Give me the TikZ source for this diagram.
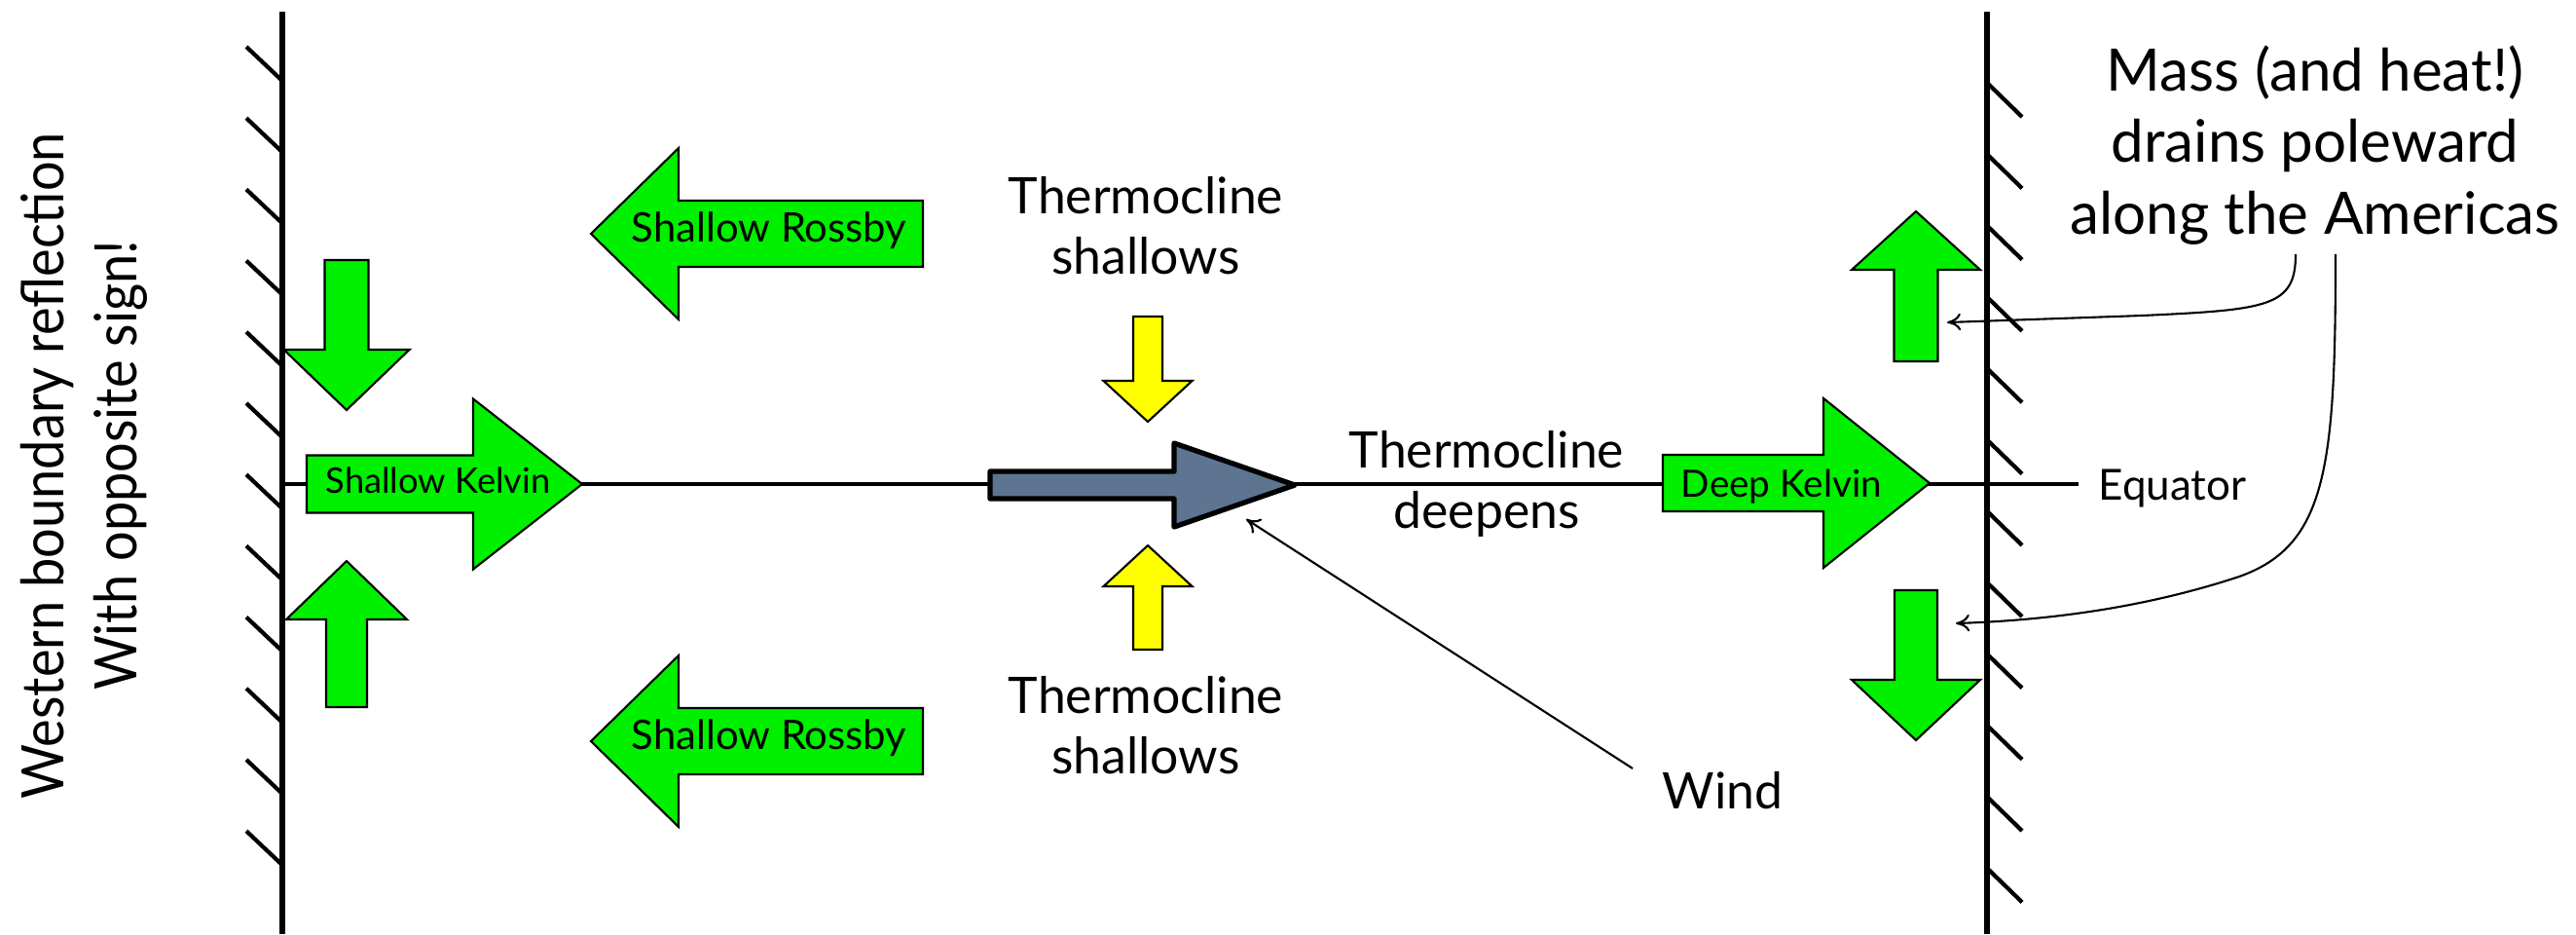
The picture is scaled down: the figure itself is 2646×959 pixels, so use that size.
\documentclass[tikz,border=0pt]{standalone}
\usepackage{fontspec}
\setmainfont{Lato}
\newfontfamily\narrowfont[FakeStretch=0.9]{Lato}
\usetikzlibrary{arrows.meta}
\usetikzlibrary{positioning}

\definecolor{wavegreen}{RGB}{0,240,0}
\definecolor{upwellyellow}{RGB}{255,255,0}
\definecolor{windslate}{RGB}{93,117,145}

% block arrow: style, name, tail, angle, length, shaft half width, head half width, head length
\newcommand{\blockarrow}[8]{%
  \begin{scope}[shift={#3}, rotate=#4]
    \draw[#1] (0,-#6) -- ({#5-#8},-#6) -- ({#5-#8},-#7) -- (#5,0)
      -- ({#5-#8},#7) -- ({#5-#8},#6) -- (0,#6) -- cycle;
    \coordinate (#2) at ({#5/2},0);
  \end{scope}}

\tikzset{
  greenarrow/.style={draw=black, fill=wavegreen, line width=0.6pt},
  yellowarrow/.style={draw=black, fill=upwellyellow, line width=0.6pt},
  windarrow/.style={draw=black, fill=windslate, line width=1.5pt, line join=round},
  wall/.style={black, line width=1.5pt},
  hatch/.style={black, line width=1.2pt},
  pointer/.style={black, line width=0.6pt, -{To[length=4pt,width=5pt]}},
  thermotext/.style={font=\fontsize{14.7}{17.6}\selectfont, align=center, inner sep=0pt},
  wavetext/.style={font=\fontsize{10.3}{12}\selectfont, inner sep=0pt, anchor=base},
  rossbytext/.style={font=\fontsize{11.9}{14}\selectfont, inner sep=0pt, anchor=base}
}

\begin{document}
\begin{tikzpicture}[x=0.01cm, y=-0.01cm]
  \useasboundingbox (0,0) rectangle (2646,959);

  % Equator line
  \coordinate (eqW) at (290,497);
  \coordinate (eqE) at (2135,497);
  \draw[black, line width=1.1pt] (eqW) -- (eqE);

  % Western and eastern boundaries
  \coordinate (wallWtop) at (290,12);
  \coordinate (wallWbot) at (290,959);
  \coordinate (wallEtop) at (2041,12);
  \coordinate (wallEbot) at (2041,959);
  \draw[wall] (wallWtop) -- (wallWbot);
  \draw[wall] (wallEtop) -- (wallEbot);

  % Hatching on the coasts
  \foreach \k in {0,...,11} {
    \draw[hatch] (253,{48+73.2*\k}) -- (289,{82+73.2*\k});
    \draw[hatch] (2041,{85+73.3*\k}) -- (2077,{120+73.3*\k});
  }

  % Kelvin waves
  \blockarrow{greenarrow}{kelvinW}{(315,497)}{0}{283}{29.5}{87.5}{112}
  \blockarrow{greenarrow}{kelvinE}{(1708,496)}{0}{274}{29}{87}{109}

  % Rossby waves
  \blockarrow{greenarrow}{rossbyN}{(948,240)}{180}{341}{34}{88}{90}
  \blockarrow{greenarrow}{rossbyS}{(948,761)}{180}{341}{34}{88}{90}

  % Reflection at the western boundary
  \blockarrow{greenarrow}{reflN}{(356,267)}{-90}{154}{22.5}{64.5}{62}
  \blockarrow{greenarrow}{reflS}{(356,726)}{90}{150}{21}{62}{60}

  % Poleward drain at the eastern boundary
  \blockarrow{greenarrow}{drainN}{(1968,371)}{90}{154}{22.5}{66}{60}
  \blockarrow{greenarrow}{drainS}{(1968,606)}{-90}{154}{22}{66}{62}

  % Thermocline shallows
  \blockarrow{yellowarrow}{upwellN}{(1179,325)}{-90}{108}{15}{45.5}{42}
  \blockarrow{yellowarrow}{upwellS}{(1179,667)}{90}{107}{15}{45.5}{42}

  % Wind stress
  \blockarrow{windarrow}{wind}{(1017,498)}{0}{313}{14}{43}{124}

  % Labels inside the arrows
  \node[wavetext] (kelvinWtxt) at (450,506) {Shallow Kelvin};
  \node[wavetext, font=\fontsize{11}{13}\selectfont] (kelvinEtxt) at (1830,510) {Deep Kelvin};
  \node[rossbytext] (rossbyNtxt) at (790,248) {Shallow Rossby};
  \node[rossbytext] (rossbyStxt) at (790,769) {Shallow Rossby};

  % Thermocline labels
  \node[thermotext] (shallowN) at (1177,232) {Thermocline\\shallows};
  \node[thermotext] (shallowS) at (1177,745) {Thermocline\\shallows};
  \node[thermotext] (deepens) at (1527,497) {Thermocline\\deepens};
  \node[thermotext, anchor=base west] (windTxt) at (1707,830) {Wind};
  \node[font=\fontsize{12.5}{15}\selectfont, inner sep=0pt, anchor=base west] (equator) at (2155,513) {Equator};

  % Eastern boundary note
  \node[font=\fontsize{17.1}{20.9}\selectfont, align=center, inner sep=0pt] (drain) at (2378,149)
    {Mass (and heat!)\\drains poleward\\along the Americas};

  % Western boundary note
  \node[font=\narrowfont\fontsize{17.1}{21.3}\selectfont, align=center, inner sep=0pt, rotate=90] (reflect) at (86,478)
    {Western boundary reflection\\With opposite sign!};

  % Pointers
  \coordinate (windTail) at (1677,789);
  \coordinate (windTip) at (1280,533);
  \draw[pointer] (windTail) -- (windTip);

  \coordinate (drainA) at (2358,261);
  \coordinate (drainB) at (2399,261);
  \coordinate (drainNpt) at (2000,331);
  \coordinate (drainSpt) at (2009,640);
  \draw[pointer] (drainA) .. controls (2358,315) and (2330,318) .. (2200,324) -- (drainNpt);
  \draw[pointer] (drainB) .. controls (2399,480) and (2390,560) .. (2300,592)
    .. controls (2200,625) and (2100,637) .. (drainSpt);

\end{tikzpicture}
\end{document}
